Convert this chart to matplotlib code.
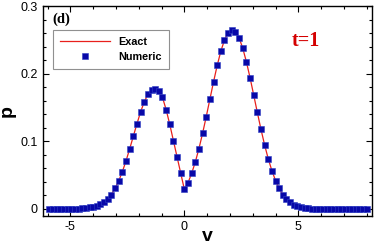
import matplotlib
matplotlib.use("Agg")
import matplotlib.pyplot as plt
from matplotlib.ticker import MultipleLocator

# velocity grid
v = [-5.92, -5.76, -5.60, -5.44, -5.28, -5.12, -4.96, -4.80, -4.64, -4.48,
     -4.32, -4.16, -4.00, -3.84, -3.68, -3.52, -3.36, -3.20, -3.04, -2.88,
     -2.72, -2.56, -2.40, -2.24, -2.08, -1.92, -1.76, -1.60, -1.44, -1.28,
     -1.12, -0.96, -0.80, -0.64, -0.48, -0.32, -0.16, 0.00, 0.16, 0.32,
     0.48, 0.64, 0.80, 0.96, 1.12, 1.28, 1.44, 1.60, 1.76, 1.92,
     2.08, 2.24, 2.40, 2.56, 2.72, 2.88, 3.04, 3.20, 3.36, 3.52,
     3.68, 3.84, 4.00, 4.16, 4.32, 4.48, 4.64, 4.80, 4.96, 5.12,
     5.28, 5.44, 5.60, 5.76, 5.92, 6.08, 6.24, 6.40, 6.56, 6.72,
     6.88, 7.04, 7.20, 7.36, 7.52, 7.68, 7.84, 8.00]

# p values at t=1
p = [0.0000, 0.0000, 0.0000, 0.0000, 0.0001, 0.0001, 0.0002, 0.0004, 0.0006, 0.0010,
     0.0015, 0.0023, 0.0034, 0.0050, 0.0072, 0.0103, 0.0149, 0.0214, 0.0303, 0.0415,
     0.0551, 0.0710, 0.0887, 0.1074, 0.1260, 0.1434, 0.1583, 0.1694, 0.1757, 0.1768,
     0.1740, 0.1650, 0.1470, 0.1250, 0.1010, 0.0770, 0.0530, 0.0290, 0.0389, 0.0526,
     0.0695, 0.0893, 0.1119, 0.1366, 0.1623, 0.1880, 0.2122, 0.2333, 0.2498, 0.2607,
     0.2650, 0.2624, 0.2531, 0.2379, 0.2178, 0.1943, 0.1688, 0.1429, 0.1179, 0.0947,
     0.0741, 0.0566, 0.0420, 0.0304, 0.0214, 0.0147, 0.0099, 0.0064, 0.0041, 0.0025,
     0.0015, 0.0009, 0.0005, 0.0003, 0.0002, 0.0001, 0.0001, 0.0000, 0.0000, 0.0000,
     0.0000, 0.0000, 0.0000, 0.0000, 0.0000, 0.0000, 0.0000, 0.0000]

plt.rcParams['font.family'] = ['Liberation Sans', 'DejaVu Sans']
plt.rcParams['axes.unicode_minus'] = False

fig = plt.figure(figsize=(3.74, 2.44), dpi=100)
ax = fig.add_axes([0.115, 0.113, 0.879, 0.862])

ax.plot(v, p, '-', color='#e8201c', lw=0.9, label='Exact', zorder=2)
ax.plot(v, p, 's', color='#0808a8', ms=3.8, mec='#3040c4', mew=0.4,
        linestyle='none', label='Numeric', zorder=3)

ax.set_xlim(-6.2, 8.22)
ax.set_ylim(-0.011, 0.3)

ax.xaxis.set_major_locator(MultipleLocator(5))
ax.xaxis.set_minor_locator(MultipleLocator(1))
ax.yaxis.set_major_locator(MultipleLocator(0.1))
ax.yaxis.set_minor_locator(MultipleLocator(0.02))
ax.set_yticks([0, 0.1, 0.2, 0.3])
ax.set_yticklabels(['0', '0.1', '0.2', '0.3'])

ax.tick_params(which='both', direction='in', top=True, right=True,
               width=0.8, labelsize=9)
ax.tick_params(which='major', length=4.3)
ax.tick_params(which='minor', length=2.4)
ax.tick_params(axis='x', pad=3)
ax.tick_params(axis='y', pad=4)
for s in ax.spines.values():
    s.set_linewidth(1.0)

ax.set_xlabel('v', fontsize=14, fontweight='bold', labelpad=-3)
ax.set_ylabel('p', fontsize=14, fontweight='bold', labelpad=3)

ax.text(0.027, 0.936, '(d)', transform=ax.transAxes, fontsize=10.5,
        fontweight='bold', family='Liberation Serif', va='center', ha='left')
ax.text(0.758, 0.836, 't=1', transform=ax.transAxes, fontsize=14.5,
        fontweight='bold', family='Liberation Serif', color='#d40000',
        va='center', ha='left')

leg = ax.legend(loc='upper left', bbox_to_anchor=(0.030, 0.886),
                borderaxespad=0, fancybox=False, framealpha=1,
                edgecolor='#909090', handlelength=4.6, handletextpad=0.8,
                labelspacing=0.45, borderpad=0.65,
                prop={'weight': 'bold', 'size': 7.8})
leg.get_frame().set_linewidth(0.8)

fig.savefig('out.png', dpi=100)
